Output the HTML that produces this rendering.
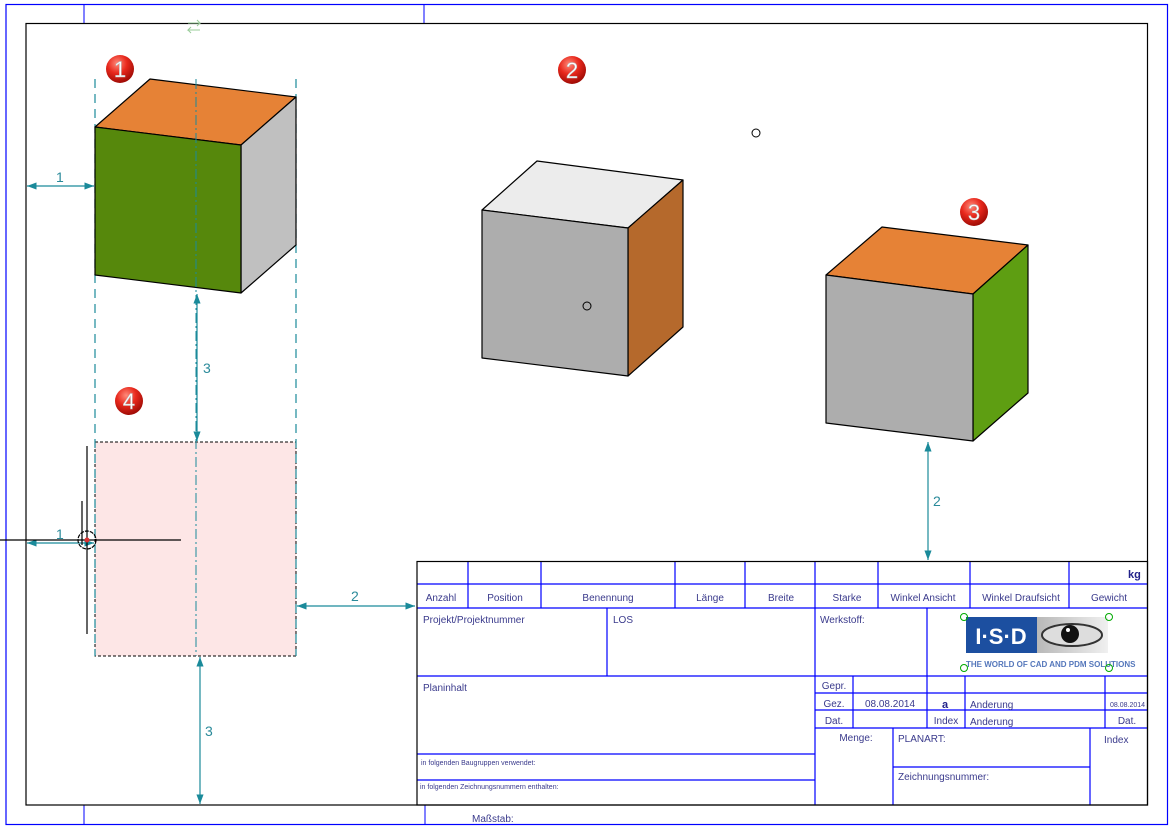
<!DOCTYPE html>
<html><head><meta charset="utf-8"><style>
html,body{margin:0;padding:0;background:#fff;}
svg{display:block;}
text{font-family:"Liberation Sans",sans-serif;}
.t{fill:#3a3a8c;font-size:10px;}
.s{fill:#3a3a8c;font-size:7px;}
.dim{stroke:#1a8a9a;stroke-width:1.2;fill:none;}
.dl{fill:#2a8a9a;font-size:14px;}
</style></head><body>
<svg width="1174" height="829" viewBox="0 0 1174 829" xmlns="http://www.w3.org/2000/svg">
<defs>
<radialGradient id="rb" cx="40%" cy="30%" r="70%"><stop offset="0" stop-color="#ff8a7a"/><stop offset="0.5" stop-color="#e8281c"/><stop offset="1" stop-color="#a00c06"/></radialGradient>
<linearGradient id="lg" x1="0" x2="1"><stop offset="0" stop-color="#e8e8e8"/><stop offset="0.5" stop-color="#b8b8b8"/><stop offset="1" stop-color="#f0f0f0"/></linearGradient>
<marker id="ar" markerWidth="8" markerHeight="6" refX="8" refY="3" orient="auto"><path d="M0,0 L8,3 L0,6 z" fill="#1a8a9a"/></marker>
<marker id="al" markerWidth="8" markerHeight="6" refX="0" refY="3" orient="auto"><path d="M8,0 L0,3 L8,6 z" fill="#1a8a9a"/></marker>
</defs>
<rect width="1174" height="829" fill="#fff"/>
<!-- outer blue frame -->
<rect x="6" y="4.5" width="1161.5" height="820" fill="none" stroke="#0000ff" stroke-width="1.2"/>
<line x1="84" y1="4" x2="84" y2="23" stroke="#0000ff"/>
<line x1="424" y1="4" x2="424" y2="23" stroke="#0000ff"/>
<line x1="84" y1="805" x2="84" y2="825" stroke="#0000ff"/>
<line x1="425" y1="805" x2="425" y2="825" stroke="#0000ff"/>
<text x="472" y="822" class="t">Maßstab:</text>
<!-- inner black frame -->
<rect x="26" y="23.5" width="1121.5" height="781.5" fill="none" stroke="#000" stroke-width="1.2"/>
<!-- top icon -->
<g stroke="#9c9" fill="none" stroke-width="1"><path d="M188,23 h12 l-3,-3 M200,23 l-3,3"/><path d="M200,30 h-12 l3,-3 M188,30 l3,3"/></g>

<!-- pink rect -->
<rect x="95" y="442" width="201" height="214" fill="#fde6e6" stroke="#000" stroke-dasharray="3,2" stroke-width="1"/>
<!-- construction lines -->
<g stroke="#1a8a9a" stroke-width="1.2" stroke-dasharray="9,6">
<line x1="95" y1="79" x2="95" y2="656"/>
<line x1="296" y1="79" x2="296" y2="656"/>
</g>

<!-- cube 1 -->
<g stroke="#000" stroke-width="1.2" stroke-linejoin="round">
<polygon points="95,127 150,79 296,97 241,145" fill="#e68236"/>
<polygon points="241,145 296,97 296,245 241,293" fill="#c0c0c0"/>
<polygon points="95,127 241,145 241,293 95,275" fill="#56880c"/>
</g>
<line x1="196" y1="79" x2="196" y2="656" stroke="#1a8a9a" stroke-width="1" stroke-dasharray="10,3,2,3"/>

<!-- cube 2 -->
<g stroke="#000" stroke-width="1.2" stroke-linejoin="round">
<polygon points="482,210 537,161 683,180 628,228" fill="#ececec"/>
<polygon points="628,228 683,180 683,327 628,376" fill="#b5692c"/>
<polygon points="482,210 628,228 628,376 482,358" fill="#adadad"/>
</g>
<!-- cube 3 -->
<g stroke="#000" stroke-width="1.2" stroke-linejoin="round">
<polygon points="826,275 882,227 1028,245 973,294" fill="#e68236"/>
<polygon points="973,294 1028,245 1028,393 973,441" fill="#5e9e12"/>
<polygon points="826,275 973,294 973,441 826,423" fill="#adadad"/>
</g>
<circle cx="756" cy="133" r="4" fill="none" stroke="#000"/>
<circle cx="587" cy="306" r="4" fill="none" stroke="#000"/>

<!-- dims -->
<line x1="27" y1="186" x2="94" y2="186" class="dim" marker-start="url(#al)" marker-end="url(#ar)"/>
<text x="56" y="182" class="dl">1</text>
<line x1="197" y1="294" x2="197" y2="441" class="dim" marker-start="url(#al)" marker-end="url(#ar)"/>
<text x="203" y="373" class="dl">3</text>
<line x1="27" y1="543" x2="94" y2="543" class="dim" marker-start="url(#al)" marker-end="url(#ar)"/>
<text x="56" y="539" class="dl">1</text>
<line x1="297" y1="606" x2="415" y2="606" class="dim" marker-start="url(#al)" marker-end="url(#ar)"/>
<text x="351" y="601" class="dl">2</text>
<line x1="200" y1="657" x2="200" y2="804" class="dim" marker-start="url(#al)" marker-end="url(#ar)"/>
<text x="205" y="736" class="dl">3</text>
<line x1="928" y1="442" x2="928" y2="560" class="dim" marker-start="url(#al)" marker-end="url(#ar)"/>
<text x="933" y="506" class="dl">2</text>

<!-- crosshair -->
<g stroke="#000" stroke-width="1.2" fill="none">
<line x1="0" y1="540" x2="181" y2="540"/>
<line x1="87" y1="446" x2="87" y2="634"/>
<line x1="82" y1="501" x2="82" y2="545"/>
<circle cx="87" cy="540" r="9" stroke-dasharray="4,1"/>
</g>
<circle cx="87" cy="540" r="2.5" fill="#d33"/>

<!-- badges -->
<g font-size="22" font-family="Liberation Sans,sans-serif" text-anchor="middle" fill="#fff" stroke="#bbb" stroke-width="0.5">
<circle cx="120" cy="69" r="14" fill="url(#rb)" stroke="none"/><text x="120" y="77">1</text>
<circle cx="572" cy="70" r="14" fill="url(#rb)" stroke="none"/><text x="572" y="78">2</text>
<circle cx="974" cy="212" r="14" fill="url(#rb)" stroke="none"/><text x="974" y="220">3</text>
<circle cx="129" cy="401" r="14" fill="url(#rb)" stroke="none"/><text x="129" y="409">4</text>
</g>

<!-- title block -->
<g stroke="#0000ff" stroke-width="1.2" fill="none">
<line x1="417" y1="584" x2="1147" y2="584"/>
<line x1="417" y1="608" x2="1147" y2="608"/>
<line x1="417" y1="676" x2="1147" y2="676"/>
<line x1="468" y1="561" x2="468" y2="608"/>
<line x1="541" y1="561" x2="541" y2="608"/>
<line x1="675" y1="561" x2="675" y2="608"/>
<line x1="745" y1="561" x2="745" y2="608"/>
<line x1="815" y1="561" x2="815" y2="608"/>
<line x1="878" y1="561" x2="878" y2="608"/>
<line x1="970" y1="561" x2="970" y2="608"/>
<line x1="1069" y1="561" x2="1069" y2="608"/>
<line x1="607" y1="608" x2="607" y2="676"/>
<line x1="815" y1="608" x2="815" y2="805"/>
<line x1="927" y1="608" x2="927" y2="676"/>
<line x1="417" y1="754" x2="815" y2="754"/>
<line x1="417" y1="780" x2="815" y2="780"/>
<line x1="815" y1="693" x2="1147" y2="693"/>
<line x1="815" y1="710" x2="1147" y2="710"/>
<line x1="815" y1="728" x2="1147" y2="728"/>
<line x1="853" y1="676" x2="853" y2="728"/>
<line x1="927" y1="676" x2="927" y2="728"/>
<line x1="965" y1="676" x2="965" y2="728"/>
<line x1="1105" y1="676" x2="1105" y2="728"/>
<line x1="893" y1="728" x2="893" y2="805"/>
<line x1="1090" y1="728" x2="1090" y2="805"/>
<line x1="893" y1="767" x2="1090" y2="767"/>
</g>
<rect x="417" y="561.5" width="730.5" height="243.5" fill="none" stroke="#000" stroke-width="1.2"/>
<g class="t" text-anchor="middle">
<text x="441" y="601">Anzahl</text>
<text x="505" y="601">Position</text>
<text x="608" y="601">Benennung</text>
<text x="710" y="601">Länge</text>
<text x="781" y="601">Breite</text>
<text x="847" y="601">Starke</text>
<text x="923" y="601">Winkel Ansicht</text>
<text x="1021" y="601">Winkel Draufsicht</text>
<text x="1109" y="601">Gewicht</text>
<text x="834" y="689">Gepr.</text>
<text x="834" y="707">Gez.</text>
<text x="834" y="724">Dat.</text>
<text x="890" y="707">08.08.2014</text>
<text x="946" y="724">Index</text>
<text x="856" y="741">Menge:</text>
<text x="1127" y="724">Dat.</text>
</g>
<text x="1128" y="578" fill="#22228a" font-size="11" font-weight="bold">kg</text>
<text x="942" y="708" fill="#22228a" font-size="11" font-weight="bold">a</text>
<text x="1110" y="707" class="s">08.08.2014</text>
<text x="970" y="708" class="t">Anderung</text>
<text x="970" y="725" class="t">Anderung</text>
<text x="423" y="623" class="t">Projekt/Projektnummer</text>
<text x="613" y="623" class="t">LOS</text>
<text x="820" y="623" class="t">Werkstoff:</text>
<text x="423" y="691" class="t">Planinhalt</text>
<text x="421" y="765" class="s">in folgenden Baugruppen verwendet:</text>
<text x="420" y="789" class="s">in folgenden Zeichnungsnummern enthalten:</text>
<text x="898" y="742" class="t">PLANART:</text>
<text x="898" y="780" class="t">Zeichnungsnummer:</text>
<text x="1104" y="743" class="t">Index</text>

<!-- logo -->
<rect x="966" y="617" width="142" height="36" fill="url(#lg)"/>
<rect x="966" y="617" width="71" height="36" fill="#1c4fa0"/>
<text x="1001" y="644" text-anchor="middle" fill="#fff" font-size="22" font-weight="bold">I·S·D</text>
<ellipse cx="1072" cy="635" rx="30" ry="11" fill="#ddd" stroke="#333" stroke-width="2"/>
<circle cx="1070" cy="634" r="9" fill="#111"/>
<circle cx="1068" cy="630" r="2" fill="#fff"/>
<text x="966" y="667" fill="#5577bb" font-size="8" font-weight="bold">THE WORLD OF CAD AND PDM SOLUTIONS</text>
<g fill="none" stroke="#0a0" stroke-width="1">
<circle cx="964" cy="617" r="3.5"/><circle cx="1109" cy="617" r="3.5"/><circle cx="964" cy="668" r="3.5"/><circle cx="1109" cy="668" r="3.5"/>
</g>
</svg>
</body></html>
